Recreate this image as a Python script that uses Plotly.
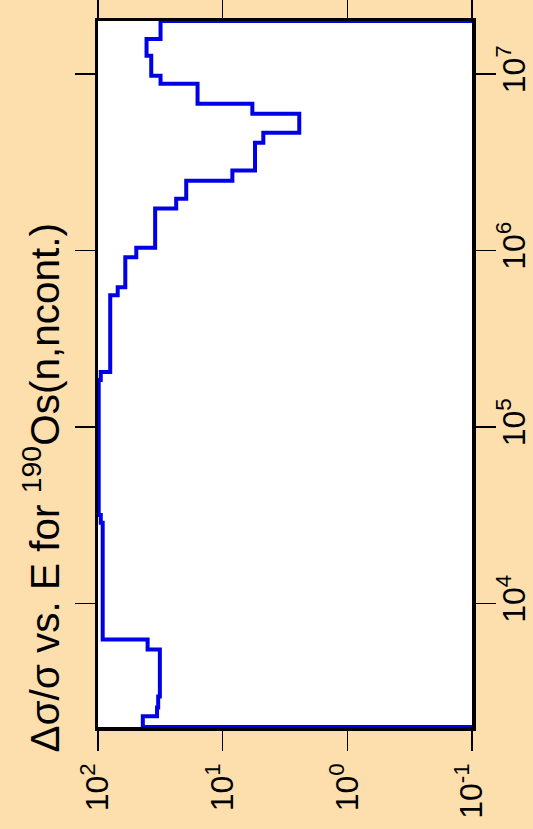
import math
import plotly.graph_objects as go

# Bin edges in incident energy (eV) and relative uncertainty (%) per bin
e_edges = [2.0e3, 2.30e3, 2.58e3, 2.98e3, 5.5e3, 6.27e3, 2.87e4, 3.18e4, 1.85e5,
           2.05e5, 5.58e5, 6.2e5, 9.16e5, 1.04e6, 1.73e6, 1.97e6, 2.49e6, 2.84e6,
           4.09e6, 4.66e6, 5.97e6, 6.8e6, 8.81e6, 9.78e6, 1.27e7, 1.58e7, 2.0e7]
rel_unc = [43.7, 33.6, 32.9, 31.9, 40.0, 91.7, 95.0, 98.7, 95.0,
           79.8, 69.5, 60.4, 49.3, 34.8, 23.6, 19.6, 8.36, 5.5,
           4.72, 2.43, 5.78, 15.9, 31.5, 37.4, 40.8, 31.5]
floor_val = 1e-3  # baseline the step curve starts from / returns to

e_ticks = [1e4, 1e5, 1e6, 1e7]
e_ticktext = ["10<sup>4</sup>", "10<sup>5</sup>", "10<sup>6</sup>", "10<sup>7</sup>"]
u_ticks = [100, 10, 1, 0.1]
u_ticktext = ["10<sup>2</sup>", "10<sup>1</sup>", "10<sup>0</sup>", "10<sup>-1</sup>"]

title_text = "Δσ/σ vs. E for <sup>190</sup>Os(n,ncont.)"

# build step path (chart drawn rotated: value on x, energy on y)
xs = [floor_val]
ys = [e_edges[0]]
for i, v in enumerate(rel_unc):
    xs += [v, v]
    ys += [e_edges[i], e_edges[i + 1]]
xs.append(floor_val)
ys.append(e_edges[-1])

W, H = 533, 829
L, R, T, B = 98, 61, 21, 102
pw, ph = W - L - R, H - T - B

fig = go.Figure()
fig.add_trace(go.Scatter(x=xs, y=ys, mode="lines",
                         line=dict(color="#0000E6", width=4),
                         hoverinfo="skip", showlegend=False))

font_family = "Liberation Sans, Arial, sans-serif"

fig.update_layout(
    width=W, height=H,
    margin=dict(l=L, r=R, t=T, b=B, pad=0, autoexpand=False),
    paper_bgcolor="#FDDEAD",
    plot_bgcolor="white",
    font=dict(family=font_family, color="black"),
    showlegend=False,
    xaxis=dict(
        type="log", range=[2, -1], automargin=False,
        tickvals=u_ticks, ticktext=u_ticktext, tickangle=-90,
        tickfont=dict(size=32, family=font_family, color="black"),
        ticks="outside", ticklen=20, tickwidth=1.5, tickcolor="black",
        showline=True, linewidth=3.5, linecolor="black", mirror="ticks",
        showgrid=False, zeroline=False, layer="below traces",
    ),
    yaxis=dict(
        type="log", range=[math.log10(e_edges[0]), math.log10(e_edges[-1])],
        automargin=False,
        tickvals=e_ticks, ticktext=e_ticktext, tickangle=-90, side="right",
        tickfont=dict(size=32, family=font_family, color="black"),
        ticklabelstandoff=-9,
        ticks="outside", ticklen=20, tickwidth=1.5, tickcolor="black",
        showline=True, linewidth=3.5, linecolor="black", mirror="ticks",
        showgrid=False, zeroline=False,
    ),
)

fig.add_annotation(
    text=title_text, textangle=-90, showarrow=False,
    xref="paper", yref="paper",
    x=(41 - L) / pw, y=(H - B - 755) / ph,
    xanchor="center", yanchor="bottom",
    font=dict(size=40.5, family=font_family, color="black"),
)

fig.write_html(
    "out.html",
    config={"displayModeBar": False, "staticPlot": True},
    post_script="document.body.style.margin='0';document.body.style.padding='0';"
                "document.body.style.background='#FDDEAD';"
                "document.body.style.overflow='hidden';",
)
